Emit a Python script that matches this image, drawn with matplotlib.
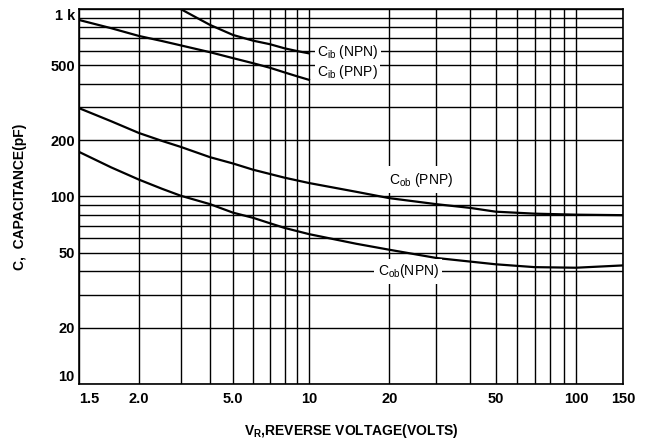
import numpy as np
import matplotlib
matplotlib.use("Agg")
import matplotlib.pyplot as plt

plt.rcParams['font.family'] = ['Liberation Sans', 'DejaVu Sans']
plt.rcParams['mathtext.default'] = 'regular'

# reverse voltage (V) and capacitance (pF)
v_cib_npn = [3.0, 3.5, 4, 5, 6, 7, 8, 9, 10]
c_cib_npn = [1000, 900, 822, 727, 678, 649, 617, 596, 580]

v_cib_pnp = [1.5, 1.75, 2, 2.5, 3, 4, 5, 6, 7, 8, 9, 10]
c_cib_pnp = [874, 790, 718, 675, 640, 588, 547, 514, 486, 459, 437, 419]

v_cob_pnp = [1.5, 1.75, 2, 2.5, 3, 4, 5, 6, 8, 10, 15, 20, 30, 40, 50, 70, 100, 150]
c_cob_pnp = [296, 252, 218, 198, 184, 162, 150, 139, 126, 118, 106, 98, 91, 87, 83, 81, 80, 79.5]

v_cob_npn = [1.5, 1.75, 2, 2.5, 3, 4, 5, 6, 7, 8, 10, 15, 20, 30, 50, 70, 100, 150]
c_cob_npn = [173, 143, 123, 110, 101, 91, 82, 77, 72, 68, 63, 56, 52, 47, 43.5, 42, 41.7, 42.9]

x_major = [1.5, 2.0, 5.0, 10, 20, 50, 100, 150]
x_major_labels = ['1.5', '2.0', '5.0', '10', '20', '50', '100', '150']
x_minor = [3, 4, 6, 7, 8, 9, 30, 40, 60, 70, 80, 90]
y_major = [10, 20, 50, 100, 200, 500, 1000]
y_major_labels = ['10', '20', '50', '100', '200', '500', '1 k']
y_minor = [30, 40, 60, 70, 80, 90, 300, 400, 600, 700, 800, 900]

# the printed voltage axis is stretched at the low end, so it is not a
# clean log axis: warp it through a few knots (log10 V -> position)
knot_v = np.log10([1.5, 2.0, 5.0, 10, 150])
knot_p = np.array([79, 139, 233, 309, 623], dtype=float)
# extend both ends so the warp stays invertible
lo = knot_p[0] - (knot_p[1] - knot_p[0]) / (knot_v[1] - knot_v[0]) * 3
hi = knot_p[-1] + (knot_p[-1] - knot_p[-2]) / (knot_v[-1] - knot_v[-2]) * 3
knot_v = np.concatenate([[knot_v[0] - 3], knot_v, [knot_v[-1] + 3]])
knot_p = np.concatenate([[lo], knot_p, [hi]])


def forward(x):
    with np.errstate(divide='ignore', invalid='ignore'):
        return np.interp(np.log10(np.clip(x, 1e-6, None)), knot_v, knot_p)


def inverse(p):
    return 10 ** np.interp(p, knot_p, knot_v)


fig = plt.figure(figsize=(6.45, 4.44), dpi=100)
ax = fig.add_axes([79 / 645, 1 - 384 / 444, (623 - 79) / 645, (384 - 9) / 444])

ax.set_xscale('function', functions=(forward, inverse))
ax.set_yscale('log')
ax.set_xlim(1.5, 150)
ax.set_ylim(10, 1000)

ax.plot(v_cib_npn, c_cib_npn, color='black', lw=1.6)
ax.plot(v_cib_pnp, c_cib_pnp, color='black', lw=1.6)
ax.plot(v_cob_pnp, c_cob_pnp, color='black', lw=1.6)
ax.plot(v_cob_npn, c_cob_npn, color='black', lw=1.6)

ax.set_xticks(x_major, x_major_labels)
ax.set_xticks(x_minor, minor=True)
ax.set_yticks(y_major, y_major_labels)
ax.set_yticks(y_minor, minor=True)
ax.yaxis.set_minor_formatter(plt.NullFormatter())
ax.xaxis.set_minor_formatter(plt.NullFormatter())

ax.tick_params(which='both', length=0)
ax.tick_params(axis='x', pad=6, labelsize=10.5)
ax.tick_params(axis='y', pad=3, labelsize=10.5)
for t in ax.get_xticklabels() + ax.get_yticklabels():
    t.set_fontweight('bold')
ax.get_xticklabels()[0].set_ha('left')
ax.get_yticklabels()[0].set_va('bottom')
ax.get_yticklabels()[-1].set_va('top')

ax.set_axisbelow(True)
ax.grid(which='both', color='black', lw=1.0)
for s in ax.spines.values():
    s.set_linewidth(1.2)

ax.set_xlabel('V$_{R}$,REVERSE VOLTAGE(VOLTS)', fontsize=10, fontweight='bold', labelpad=11)
ax.set_ylabel('C,  CAPACITANCE(pF)', fontsize=10, fontweight='bold', labelpad=17)

box = dict(fc='white', ec='none', pad=1.5)
ax.text(10.7, 590, 'C$_{ib}$ (NPN)', ha='left', va='center', fontsize=10, bbox=box)
ax.text(10.7, 462, 'C$_{ib}$ (PNP)', ha='left', va='center', fontsize=10, bbox=box)
ax.text(20, 123, 'C$_{ob}$ (PNP)', ha='left', va='center', fontsize=10,
        bbox=dict(fc='white', ec='none', pad=3))
ax.text(18.1, 40, 'C$_{ob}$(NPN)', ha='left', va='center', fontsize=10,
        bbox=dict(fc='white', ec='none', pad=2.5))

fig.savefig('out.png', dpi=100)
